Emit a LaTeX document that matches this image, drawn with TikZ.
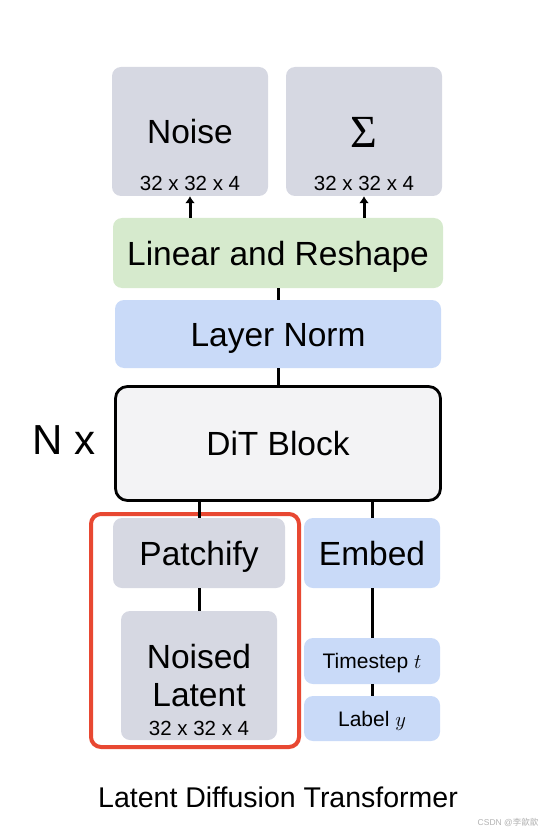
\documentclass[tikz,border=0pt]{standalone}
\usepackage{fontspec}
\setmainfont{Liberation Sans}
\newfontfamily\cjkfont{Noto Sans CJK SC}
\newfontfamily\sigmafont{Liberation Serif}
\usetikzlibrary{arrows.meta, positioning}
\definecolor{boxgray}{RGB}{214,216,226}
\definecolor{boxgreen}{RGB}{214,234,205}
\definecolor{boxblue}{RGB}{201,218,248}
\definecolor{ditfill}{RGB}{243,243,245}
\definecolor{framered}{RGB}{232,72,50}

\begin{document}
\begin{tikzpicture}[
        x=1pt, y=-1pt,
   node distance = 0pt,
      blk/.style = {rounded corners=9pt, inner sep=0pt, align=center,
                    text height=24pt, text depth=0pt,
                    font=\fontsize{33.5}{38}\selectfont},
    grayblk/.style = {blk, fill=boxgray},
   greenblk/.style = {blk, fill=boxgreen},
    blueblk/.style = {blk, fill=boxblue},
     dimtxt/.style = {inner sep=0pt, font=\fontsize{20.5}{24}\selectfont},
      small/.style = {blk, fill=boxblue, text height=15pt,
                      font=\fontsize{21}{24}\selectfont},
       conn/.style = {line width=3pt},
                    ]
  \useasboundingbox (0,0) rectangle (546,834);
  \node (noise)  [grayblk, minimum width=156pt, minimum height=129pt] at (190,131.5) {Noise};
  \node (sigma)  [grayblk, minimum width=156pt, minimum height=129pt, text height=32pt,
                  font=\fontsize{46}{50}\sigmafont] at (364,131.5) {Σ};
  \node (noisedim) [dimtxt, above=5pt of noise.south] {32 x 32 x 4};
  \node (sigmadim) [dimtxt, above=5pt of sigma.south] {32 x 32 x 4};
  \node (linear) [greenblk, minimum width=330pt, minimum height=70pt] at (278,253) {Linear and Reshape};
  \node (norm)   [blueblk, minimum width=326pt, minimum height=68pt] at (278,334) {Layer Norm};
  \node (dit)    [blk, fill=ditfill, draw, line width=2.8pt, rounded corners=12pt,
                  minimum width=325pt, minimum height=114pt] at (278,443.5) {DiT Block};
  \node (rep)    [inner sep=0pt, font=\fontsize{42}{46}\selectfont] at (64,440) {N x};
  \node (frame)  [draw=framered, line width=4pt, rounded corners=10pt,
                  minimum width=208pt, minimum height=233pt] at (195,630.5) {};
  \node (patch)  [grayblk, minimum width=172pt, minimum height=70pt] at (199,553) {Patchify};
  \node (latent) [grayblk, text height=, text depth=, minimum width=156pt,
                  minimum height=129pt] at (199,675.5) {Noised\\Latent};
  \node (latentdim) [dimtxt, above=4pt of latent.south] {32 x 32 x 4};
  \node (embed)  [blueblk, minimum width=136pt, minimum height=70pt] at (372,553) {Embed};
  \node (tstep)  [small, minimum width=136pt, minimum height=46pt] at (372,661) {Timestep $t$};
  \node (label)  [small, minimum width=136pt, minimum height=45pt] at (372,718.5) {Label $y$};
  \node (title)  [inner sep=0pt, font=\fontsize{28.5}{32}\selectfont] at (278,797) {Latent Diffusion Transformer};
  \node (mark)   [inner sep=0pt, text=black!30, font=\fontsize{8.5}{10}\selectfont] at (508,822) {CSDN @\cjkfont 李歆歆};
    \draw [conn, -{Latex[length=7pt, width=10pt]}]
        (linear.north -| noise) -- (noise.south);
    \draw [conn, -{Latex[length=7pt, width=10pt]}]
        (linear.north -| sigma) -- (sigma.south);
    \draw [conn] (linear) -- (norm);
    \draw [conn] (norm) -- (dit);
    \draw [conn] (patch.north) -- (patch.north |- dit.south);
    \draw [conn] (embed.north) -- (embed.north |- dit.south);
    \draw [conn] (patch) -- (latent);
    \draw [conn] (embed) -- (tstep);
    \draw [conn] (tstep) -- (label);
\end{tikzpicture}
\end{document}
